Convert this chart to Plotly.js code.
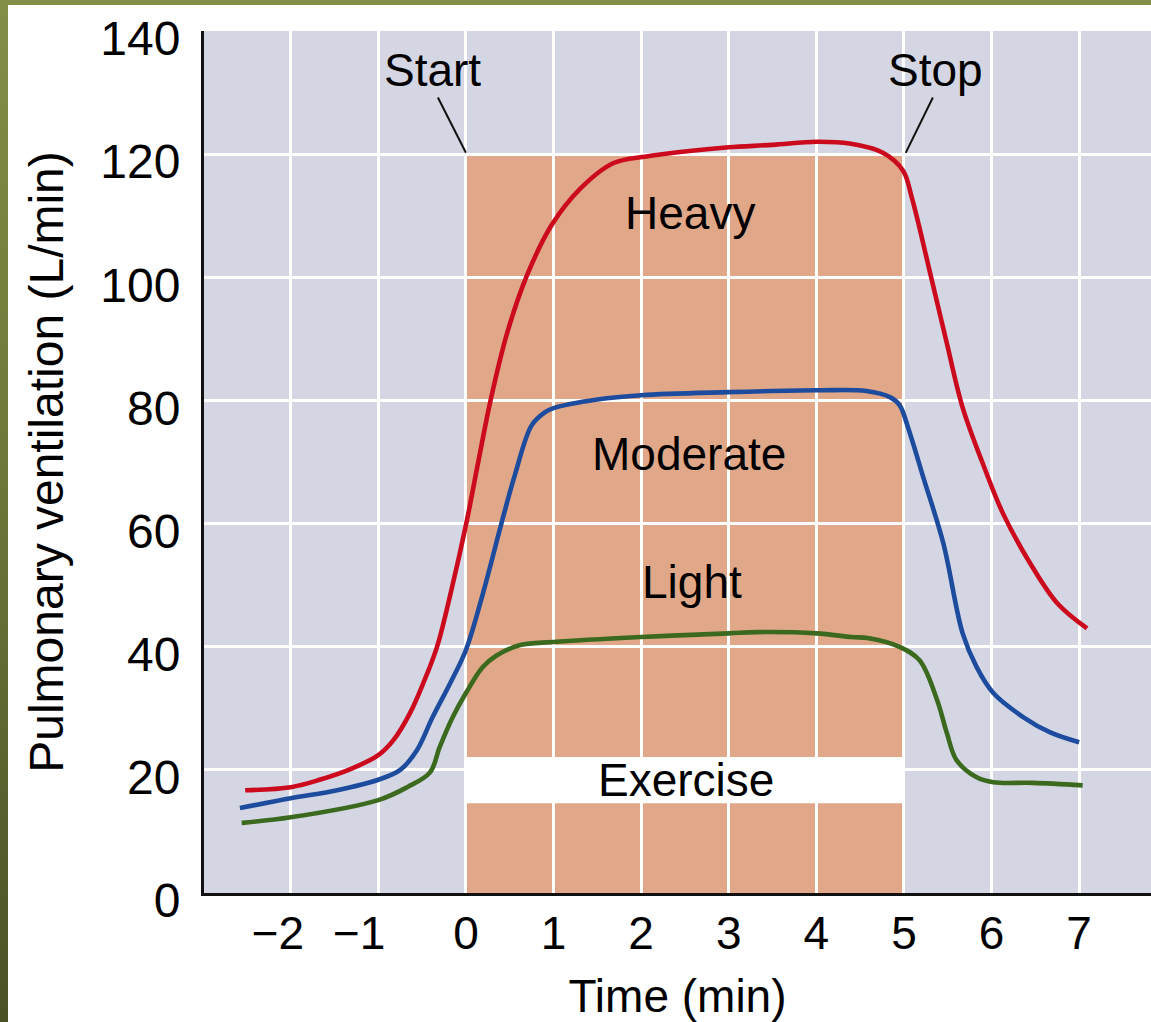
<!DOCTYPE html>
<html>
<head>
<meta charset="utf-8">
<script src="https://cdn.plot.ly/plotly-3.0.1.min.js"></script>
<style>
  html, body { margin: 0; padding: 0; background: #ffffff; }
  #wrap { position: relative; width: 1151px; height: 1022px; overflow: hidden; }
  #chart { position: absolute; left: 0; top: 0; width: 1151px; height: 1022px; }
  #edgeLeft { position: absolute; left: 0; top: 0; width: 8px; height: 1022px;
    background: linear-gradient(to bottom, #838e47 0%, #6b7538 50%, #4a5126 100%); z-index: 10; }
  #edgeTop { position: absolute; left: 0; top: 0; width: 1151px; height: 5px; background: #838e47; z-index: 10; }
</style>
</head>
<body>
<div id="wrap">
  <div id="chart"></div>
  <div id="edgeLeft"></div>
  <div id="edgeTop"></div>
</div>
<script>
// ---- Data ----
const heavyX = [-2.52, -2.0, -1.67, -1.29, -1.0, -0.83, -0.64, -0.49, -0.33, -0.17, 0.0, 0.14, 0.28, 0.47, 0.70, 0.98, 1.30, 1.68, 2.06, 2.55, 3.0, 3.5, 4.0, 4.38, 4.76, 4.99, 5.09, 5.30, 5.49, 5.67, 5.90, 6.13, 6.44, 6.75, 7.09];
const heavyY = [16.7, 17.2, 18.4, 20.3, 22.4, 24.8, 29.2, 34.0, 40.0, 49.0, 59.8, 70.0, 80.0, 91.0, 100.5, 108.6, 114.4, 118.6, 119.7, 120.6, 121.2, 121.6, 122.1, 121.8, 120.3, 117.4, 113.0, 100.7, 89.3, 78.9, 69.8, 61.7, 53.6, 47.1, 43.0];

const moderateX = [-2.58, -2.0, -1.47, -1.0, -0.75, -0.56, -0.38, -0.18, 0.0, 0.2, 0.4, 0.56, 0.75, 0.9, 1.0, 1.5, 2.0, 3.0, 4.0, 4.57, 4.84, 4.95, 5.05, 5.22, 5.45, 5.67, 5.83, 6.02, 6.36, 6.67, 7.0];
const moderateY = [13.8, 15.4, 16.7, 18.4, 20.0, 23.2, 28.6, 34.1, 39.5, 49.0, 59.8, 68.0, 76.0, 78.1, 78.8, 80.2, 80.9, 81.4, 81.7, 81.6, 80.6, 79.3, 75.5, 67.6, 56.8, 42.2, 36.7, 32.5, 28.6, 26.1, 24.5];

const lightX = [-2.56, -2.0, -1.0, -0.67, -0.41, -0.3, -0.15, 0.0, 0.19, 0.35, 0.62, 1.0, 2.0, 3.0, 3.32, 4.0, 4.4, 4.6, 4.95, 5.18, 5.38, 5.49, 5.6, 5.83, 6.02, 6.47, 7.04];
const lightY = [11.4, 12.3, 15.1, 17.2, 19.6, 23.7, 28.6, 32.5, 36.7, 38.6, 40.3, 40.8, 41.6, 42.2, 42.4, 42.2, 41.6, 41.4, 40.0, 37.8, 31.3, 26.0, 21.6, 18.8, 18.0, 17.9, 17.5];

const exerciseStart = 0;
const exerciseStop = 5;
const exerciseLevel = 120;

const xTickVals = [-2, -1, 0, 1, 2, 3, 4, 5, 6, 7];
const xTickText = ['\u22122\u00a0\u00a0', '\u22121\u00a0\u00a0\u00a0', '0', '1', '2', '3', '4', '5', '6', '7'];
const yTickVals = [0, 20, 40, 60, 80, 100, 120, 140];

const seriesLabels = ['Heavy', 'Moderate', 'Light'];

// ---- Styling ----
const FONT = 'Liberation Sans, Arial, Helvetica, sans-serif';
const colors = ['#cc0a1e', '#1d4c9e', '#3b6a1e'];

function curve(x, y, color, name) {
  return {
    x: x, y: y, name: name, type: 'scatter', mode: 'lines',
    line: { color: color, width: 4.6, shape: 'spline', smoothing: 1.0 },
    hoverinfo: 'skip'
  };
}

const data = [
  curve(lightX, lightY, colors[2], seriesLabels[2]),
  curve(moderateX, moderateY, colors[1], seriesLabels[1]),
  curve(heavyX, heavyY, colors[0], seriesLabels[0])
];

const txt = (text, x, y) => ({
  text: text, x: x, y: y, xref: 'x', yref: 'y', showarrow: false,
  xanchor: 'center', yanchor: 'middle',
  font: { family: FONT, size: 46, color: '#000000' }
});

const layout = {
  width: 1151, height: 1022,
  margin: { l: 204, r: 0, t: 31, b: 129, pad: 0 },
  paper_bgcolor: '#ffffff',
  plot_bgcolor: '#d4d6e3',
  showlegend: false,
  font: { family: FONT, color: '#000000' },
  xaxis: {
    range: [-2.99, 7.82],
    tickvals: xTickVals, ticktext: xTickText,
    tickangle: 0,
    showgrid: true, gridcolor: '#ffffff', gridwidth: 3,
    zeroline: false,
    showline: true, linecolor: '#111111', linewidth: 3,
    ticks: '', ticklabelstandoff: -2,
    tickfont: { family: FONT, size: 46, color: '#000000' },
    title: { text: 'Time (min)', font: { family: FONT, size: 46, color: '#000000' }, standoff: 26 },
    fixedrange: true
  },
  yaxis: {
    range: [0, 140.1],
    tickvals: yTickVals,
    showgrid: true, gridcolor: '#ffffff', gridwidth: 3,
    zeroline: false,
    showline: true, linecolor: '#111111', linewidth: 3,
    ticks: '', ticklabelstandoff: 11, ticklabelshift: 7,
    ticklabeloverflow: 'allow',
    tickfont: { family: FONT, size: 48, color: '#000000' },
    title: { text: 'Pulmonary ventilation (L/min)', font: { family: FONT, size: 48, color: '#000000' }, standoff: 22 },
    fixedrange: true
  },
  shapes: [
    { type: 'rect', xref: 'x', yref: 'y', x0: exerciseStart, x1: exerciseStop, y0: 0, y1: exerciseLevel,
      fillcolor: '#e0a888', line: { width: 0 }, layer: 'below' },
    { type: 'rect', xref: 'x', yref: 'y', x0: exerciseStart, x1: exerciseStop, y0: 14.6, y1: 22.1,
      fillcolor: '#ffffff', line: { width: 0 }, layer: 'below' },
    { type: 'line', xref: 'x', yref: 'y', x0: -0.32, y0: 129.3, x1: 0, y1: 120.3,
      line: { color: '#111111', width: 2 } },
    { type: 'line', xref: 'x', yref: 'y', x0: 5.33, y0: 129.3, x1: 5.02, y1: 120.3,
      line: { color: '#111111', width: 2 } }
  ],
  annotations: [
    txt('Start', -0.38, 133.8),
    txt('Stop', 5.36, 133.8),
    txt(seriesLabels[0], 2.56, 110.5),
    txt(seriesLabels[1], 2.55, 71.3),
    txt(seriesLabels[2], 2.58, 50.6),
    txt('Exercise', 2.51, 18.3)
  ]
};

Plotly.newPlot('chart', data, layout, { displayModeBar: false, staticPlot: true });
</script>
</body>
</html>
